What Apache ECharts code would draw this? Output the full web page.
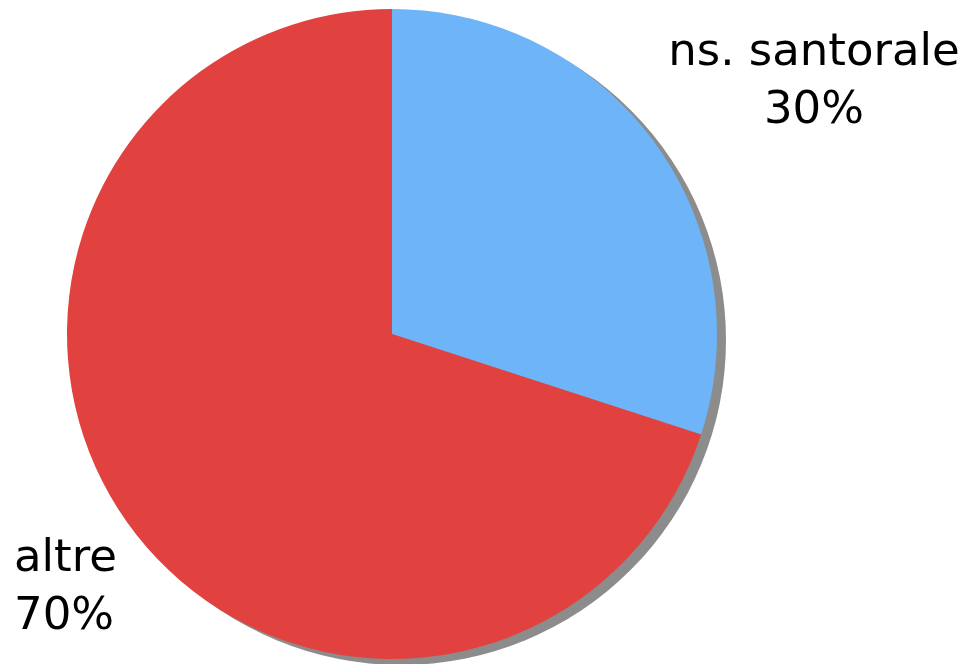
<!DOCTYPE html>
<html>
<head>
<meta charset="utf-8">
<script src="https://cdn.jsdelivr.net/npm/echarts@6/dist/echarts.min.js"></script>
<style>
  html, body { margin: 0; padding: 0; background: #fff; }
  #chart { width: 969px; height: 664px; }
</style>
</head>
<body>
<div id="chart"></div>
<script>
const categories = ['ns. santorale', 'altre']
const values = [30, 70]
const colors = ['#6db5f8', '#e2423f']

const chart = echarts.init(document.getElementById('chart'))

const option = {
  animation: false,
  backgroundColor: '#ffffff',
  series: [
    {
      // flat drop shadow behind the pie
      type: 'pie',
      silent: true,
      z: 1,
      center: [401, 340],
      radius: 325,
      label: { show: false },
      labelLine: { show: false },
      data: [{ value: 1, name: 'shadow', itemStyle: { color: '#8c8c8c' } }]
    },
    {
      type: 'pie',
      z: 2,
      center: [392, 334],
      radius: 325,
      startAngle: 90,
      clockwise: true,
      data: categories.map((name, i) => ({
        name,
        value: values[i],
        itemStyle: { color: colors[i] }
      })),
      itemStyle: { borderWidth: 0 },
      label: {
        show: true,
        position: 'outside',
        formatter: '{b}\n{d}%',
        fontFamily: 'DejaVu Sans',
        fontSize: 45,
        lineHeight: 58,
        color: '#000',
        overflow: 'none'
      },
      labelLine: { show: false },
      labelLayout: (params) => {
        if (params.dataIndex === 0) {
          return { x: 814, y: 82, align: 'center', verticalAlign: 'middle', width: 400 }
        }
        return { x: 14, y: 588, align: 'left', verticalAlign: 'middle', width: 300 }
      }
    }
  ]
}

chart.setOption(option)
</script>
</body>
</html>
